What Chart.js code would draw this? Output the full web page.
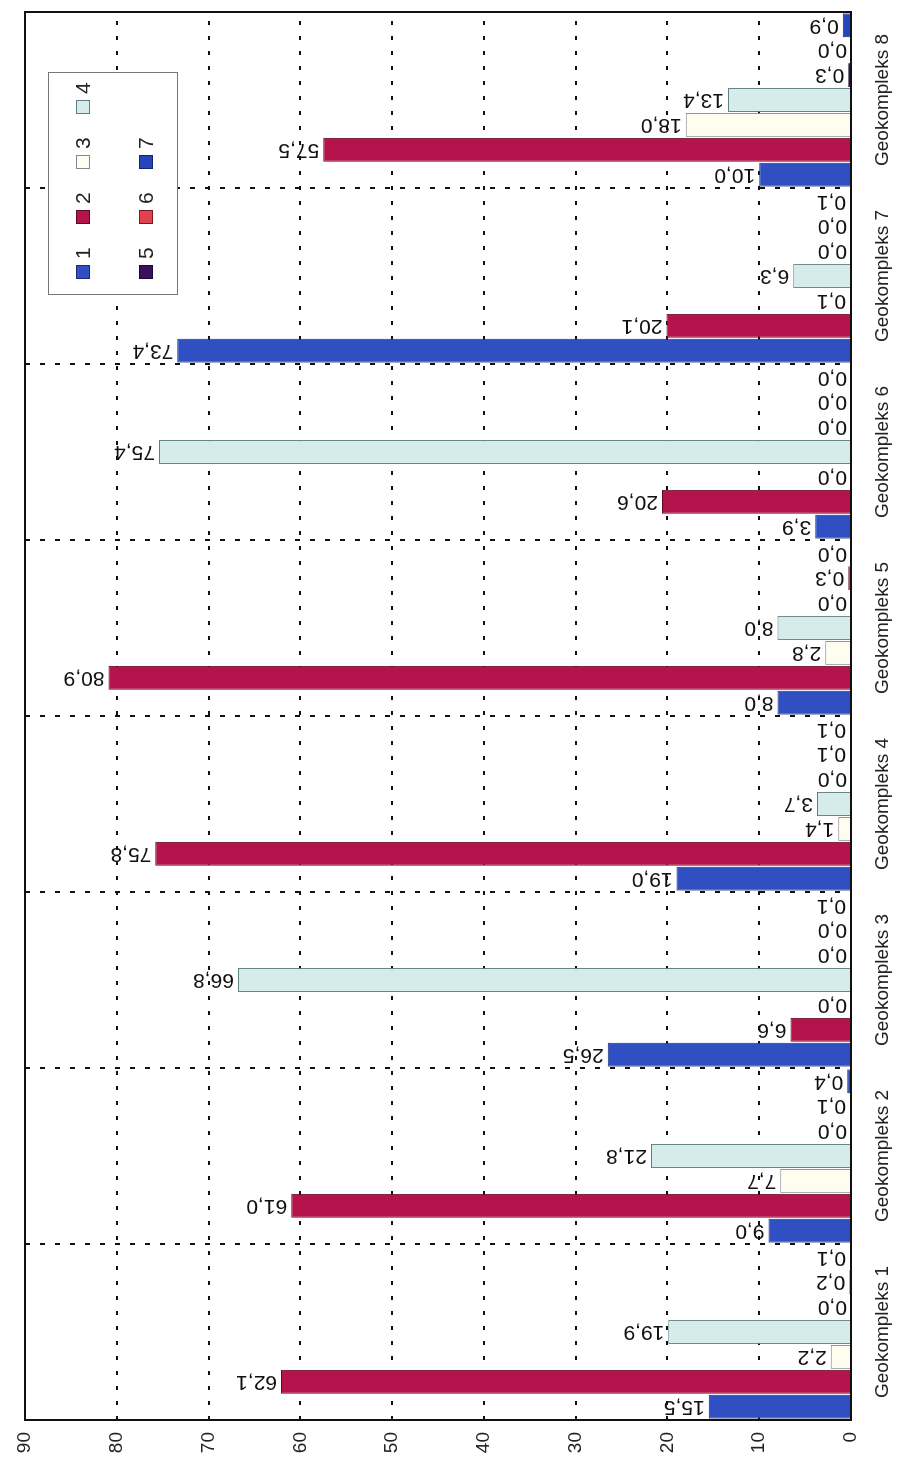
<!DOCTYPE html>
<html>
<head>
<meta charset="utf-8">
<script src="https://cdn.jsdelivr.net/npm/chart.js@4/dist/chart.umd.min.js"></script>
<style>
  html, body { margin: 0; padding: 0; background: #fff; overflow: hidden; }
  body { width: 902px; height: 1462px; position: relative; }
  #wrap {
    position: absolute; left: 0; top: 0;
    width: 1462px; height: 902px;
    transform-origin: 0 0;
    transform: translate(0, 1462px) rotate(-90deg);
    font-family: "Liberation Sans", Arial, sans-serif;
  }
  #legend {
    position: absolute; left: 1167px; top: 48px;
    width: 223px; height: 130px;
    border: 1px solid #777; background: #fff;
    box-sizing: border-box;
  }
  .item { position: absolute; display: flex; align-items: center; font-size: 21px; color: #222; }
  .sw { width: 14px; height: 14px; margin-right: 6px; box-sizing: border-box; border: 1px solid #333; }
</style>
</head>
<body>
<div id="wrap">
  <canvas id="barChart" width="1462" height="902"></canvas>
  <div id="legend"></div>
</div>
<script>
// Data
var categories = ['Geokompleks 1', 'Geokompleks 2', 'Geokompleks 3', 'Geokompleks 4',
                  'Geokompleks 5', 'Geokompleks 6', 'Geokompleks 7', 'Geokompleks 8'];
var seriesNames = ['1', '2', '3', '4', '5', '6', '7'];
var values1 = [15.5, 9.0, 26.5, 19.0, 8.0, 3.9, 73.4, 10.0];
var values2 = [62.1, 61.0, 6.6, 75.8, 80.9, 20.6, 20.1, 57.5];
var values3 = [2.2, 7.7, 0.0, 1.4, 2.8, 0.0, 0.1, 18.0];
var values4 = [19.9, 21.8, 66.8, 3.7, 8.0, 75.4, 6.3, 13.4];
var values5 = [0.0, 0.0, 0.0, 0.0, 0.0, 0.0, 0.0, 0.3];
var values6 = [0.2, 0.1, 0.0, 0.1, 0.3, 0.0, 0.0, 0.0];
var values7 = [0.1, 0.4, 0.1, 0.1, 0.0, 0.0, 0.1, 0.9];
var valueTicks = [0, 10, 20, 30, 40, 50, 60, 70, 80, 90];

var fills = ['#2f4fc2', '#b5134b', '#fffdf0', '#d6ebec', '#3b0e5e', '#e0434f', '#2545b8'];
var edges = ['#1a2a70', '#5a0a25', '#888888', '#5f8080', '#1a0530', '#7a1a20', '#14256a'];
var allValues = [values1, values2, values3, values4, values5, values6, values7];

var FONT = '"Liberation Sans", Arial, sans-serif';

function fmt(v) {
    return v.toFixed(1).replace('.', ',');
}

// value labels, written upward from each bar tip
var barLabels = {
    id: 'barLabels',
    afterDatasetsDraw: function(chart) {
        var ctx = chart.ctx;
        ctx.save();
        ctx.font = '21px ' + FONT;
        ctx.fillStyle = '#111';
        chart.data.datasets.forEach(function(ds, i) {
            chart.getDatasetMeta(i).data.forEach(function(bar, j) {
                ctx.save();
                ctx.translate(bar.x, bar.y - 4);
                ctx.rotate(-Math.PI / 2);
                ctx.textAlign = 'left';
                ctx.textBaseline = 'middle';
                ctx.fillText(fmt(ds.data[j]), 0, 0);
                ctx.restore();
            });
        });
        ctx.restore();
    }
};

// frame round the plot area
var frame = {
    id: 'frame',
    afterDatasetsDraw: function(chart) {
        var a = chart.chartArea, ctx = chart.ctx;
        ctx.save();
        ctx.strokeStyle = '#111';
        ctx.lineWidth = 2;
        ctx.strokeRect(a.left, a.top, a.right - a.left, a.bottom - a.top);
        ctx.restore();
    }
};

var ctx = document.getElementById('barChart');
var chart = new Chart(ctx, {
    type: 'bar',
    data: {
        labels: categories,
        datasets: allValues.map(function(vals, i) {
            return {
                label: seriesNames[i],
                data: vals,
                backgroundColor: fills[i],
                borderColor: edges[i],
                borderWidth: 1,
                categoryPercentage: 0.99,
                barPercentage: 0.96
            };
        })
    },
    options: {
        responsive: false,
        animation: false,
        layout: { padding: { left: 0, right: 12, top: 25, bottom: 0 } },
        plugins: {
            legend: { display: false },
            tooltip: { enabled: false }
        },
        scales: {
            x: {
                grid: {
                    offset: true,
                    drawTicks: false,
                    color: '#111',
                    lineWidth: 2
                },
                border: { display: false, dash: [5, 10] },
                ticks: {
                    padding: 20,
                    color: '#222',
                    font: { family: FONT, size: 19 }
                },
                afterFit: function(scale) { scale.height = 51; }
            },
            y: {
                min: 0,
                max: 90,
                afterBuildTicks: function(scale) {
                    scale.ticks = valueTicks.map(function(v) { return { value: v }; });
                },
                grid: {
                    drawTicks: false,
                    color: function(c) {
                        return (c.tick && (c.tick.value === 0 || c.tick.value === 90)) ? 'rgba(0,0,0,0)' : '#111';
                    },
                    lineWidth: 2
                },
                border: { display: false, dash: [4, 11] },
                ticks: {
                    padding: 12,
                    color: '#222',
                    font: { family: FONT, size: 19 }
                },
                afterFit: function(scale) { scale.width = 42; }
            }
        }
    },
    plugins: [barLabels, frame]
});

// HTML legend in two rows
var legend = document.getElementById('legend');
seriesNames.forEach(function(name, i) {
    var row = i < 4 ? 0 : 1;
    var col = i < 4 ? i : i - 4;
    var item = document.createElement('div');
    item.className = 'item';
    item.style.left = (15 + col * 55) + 'px';
    item.style.top = (row === 0 ? 22 : 85) + 'px';
    var sw = document.createElement('span');
    sw.className = 'sw';
    sw.style.background = fills[i];
    sw.style.borderColor = edges[i];
    var txt = document.createElement('span');
    txt.textContent = name;
    item.appendChild(sw);
    item.appendChild(txt);
    legend.appendChild(item);
});
</script>
</body>
</html>
